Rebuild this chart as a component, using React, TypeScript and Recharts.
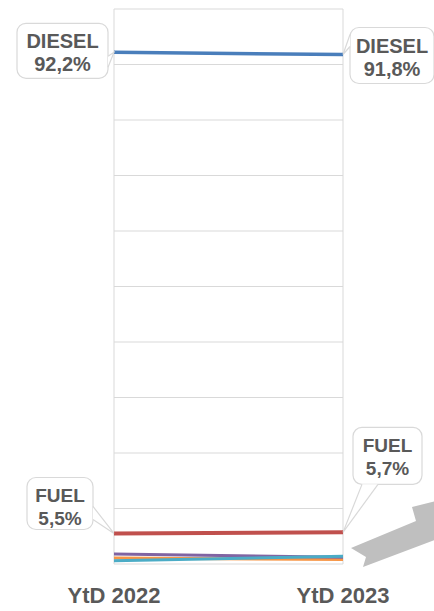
import { LineChart, Line, XAxis, YAxis, CartesianGrid, LabelList } from "recharts";

const PERIODS = ["YtD 2022", "YtD 2023"];
const DIESEL = [92.2, 91.8];
const FUEL = [5.5, 5.7];
const PURPLE = [1.8, 1.2];
const ORANGE = [1.1, 0.8];
const CYAN = [0.6, 1.4];
const Y_TICKS = [0, 10, 20, 30, 40, 50, 60, 70, 80, 90, 100];
const DIESEL_LABELS = ["92,2%", "91,8%"];
const FUEL_LABELS = ["5,5%", "5,7%"];

const data = PERIODS.map((period, i) => ({
  period,
  diesel: DIESEL[i],
  fuel: FUEL[i],
  purple: PURPLE[i],
  orange: ORANGE[i],
  cyan: CYAN[i],
}));

const FONT = "'Liberation Sans', Arial, sans-serif";
const TEXT = "#595959";
const BORDER = "#d9d9d9";

// box offsets relative to the data point, plus the wedge base (also relative)
type Box = {
  dx: number;
  dy: number;
  w: number;
  h: number;
  base: [number, number, number, number];
  fontSize: number;
};

const DIESEL_BOXES: Box[] = [
  { dx: -97, dy: -29, w: 91, h: 55, base: [-6, 4, -6, 15], fontSize: 20 },
  { dx: 7, dy: -27, w: 84, h: 56, base: [7, -20, 7, -8], fontSize: 20 },
];
const FUEL_BOXES: Box[] = [
  { dx: -87, dy: -56, w: 66, h: 52, base: [-21, -27, -21, -14], fontSize: 19 },
  { dx: 10, dy: -105, w: 69, h: 57, base: [19, -48, 35, -48], fontSize: 19 },
];

function Callout(props: any, title: string, texts: string[], boxes: Box[]) {
  const { x, y, index } = props;
  const b = boxes[index];
  const t = texts[index];
  if (!b || x == null || y == null) return null;
  const bx = x + b.dx;
  const by = y + b.dy;
  const [x1, y1, x2, y2] = b.base;
  const cx = bx + b.w / 2;
  return (
    <g>
      <rect x={bx} y={by} width={b.w} height={b.h} rx={9} fill="#fff" stroke={BORDER} strokeWidth={1.2} />
      <polygon points={`${x + x1},${y + y1} ${x},${y} ${x + x2},${y + y2}`} fill="#fff" stroke="none" />
      <polyline
        points={`${x + x1},${y + y1} ${x},${y} ${x + x2},${y + y2}`}
        fill="none"
        stroke={BORDER}
        strokeWidth={1.2}
      />
      <text x={cx} y={by + 25} textAnchor="middle" fontFamily={FONT} fontWeight={700} fontSize={b.fontSize} fill={TEXT}>
        {title}
      </text>
      <text x={cx} y={by + 48} textAnchor="middle" fontFamily={FONT} fontWeight={700} fontSize={b.fontSize} fill={TEXT}>
        {t}
      </text>
    </g>
  );
}

export default function App() {
  return (
    <div style={{ position: "absolute", left: 0, top: 0, width: 434, height: 611, background: "#fff" }}>
      <LineChart width={434} height={611} data={data} margin={{ top: 9, right: 91, left: 114, bottom: 0 }}>
        <CartesianGrid stroke={BORDER} strokeWidth={1} />
        <XAxis
          dataKey="period"
          height={47}
          axisLine={false}
          tickLine={false}
          tickMargin={17}
          tick={{ fill: TEXT, fontSize: 22, fontWeight: 700, fontFamily: FONT }}
          interval={0}
        />
        <YAxis hide domain={[0, 100]} ticks={Y_TICKS} />
        <Line dataKey="orange" stroke="#f79646" strokeWidth={3} dot={false} isAnimationActive={false} />
        <Line dataKey="purple" stroke="#8064a2" strokeWidth={3} dot={false} isAnimationActive={false} />
        <Line dataKey="cyan" stroke="#4bacc6" strokeWidth={3} dot={false} isAnimationActive={false} />
        <Line dataKey="fuel" stroke="#c0504d" strokeWidth={4} dot={false} isAnimationActive={false}>
          <LabelList dataKey="fuel" content={(p: any) => Callout(p, "FUEL", FUEL_LABELS, FUEL_BOXES)} />
        </Line>
        <Line dataKey="diesel" stroke="#4a7ebb" strokeWidth={3.5} dot={false} isAnimationActive={false}>
          <LabelList dataKey="diesel" content={(p: any) => Callout(p, "DIESEL", DIESEL_LABELS, DIESEL_BOXES)} />
        </Line>
      </LineChart>
      <svg width={434} height={611} style={{ position: "absolute", left: 0, top: 0, pointerEvents: "none" }}>
        <polygon points="351,548 416,521 412,507 440,500 440,538 363,567 366,557" fill="#bfbfbf" />
      </svg>
    </div>
  );
}
